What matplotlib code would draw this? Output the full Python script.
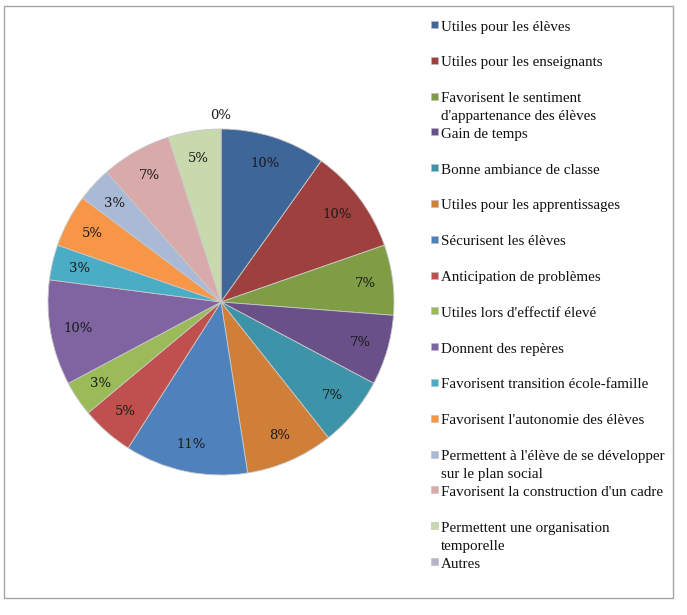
import matplotlib
matplotlib.use("Agg")
import matplotlib.pyplot as plt
from matplotlib.patches import Rectangle
import numpy as np

# Data (number of answers per category, total 61)
categories = [
    "Utiles pour les élèves",
    "Utiles pour les enseignants",
    "Favorisent le sentiment\nd'appartenance des élèves",
    "Gain de temps",
    "Bonne ambiance de classe",
    "Utiles pour les apprentissages",
    "Sécurisent les élèves",
    "Anticipation de problèmes",
    "Utiles lors d'effectif élevé",
    "Donnent des repères",
    "Favorisent transition école-famille",
    "Favorisent l'autonomie des élèves",
    "Permettent à l'élève de se développer\nsur le plan social",
    "Favorisent la construction d'un cadre",
    "Permettent une organisation\ntemporelle",
    "Autres",
]
counts = [6, 6, 4, 4, 4, 5, 7, 3, 2, 6, 2, 3, 2, 4, 3, 0]
colors = [
    "#3f6699", "#9e403d", "#7f9d44", "#6a5088", "#3d93a8", "#d07f38",
    "#4f81bd", "#c0504d", "#9bbb59", "#8064a2", "#4bacc6", "#f79646",
    "#aab9d5", "#d9aaaa", "#c9d9ae", "#b7b3cc",
]

W, H = 687, 615
fig = plt.figure(figsize=(W / 100, H / 100), dpi=100)
fig.patch.set_facecolor("white")

# outer border
fig.patches.append(Rectangle((4 / W, 1 - 598 / H), 669 / W, 592 / H,
                             transform=fig.transFigure, fill=False,
                             edgecolor="#a6a6a6", linewidth=1.0))

# pie axes: center (221, 302), radius 173 px
cx, cy, r = 221, 302, 173
ax = fig.add_axes([(cx - r) / W, (H - cy - r) / H, 2 * r / W, 2 * r / H])
wedges, _ = ax.pie(counts, colors=colors, startangle=90, counterclock=False,
                   radius=1.0,
                   wedgeprops=dict(edgecolor="#c8c8c8", linewidth=0.6))
ax.set_xlim(-1, 1)
ax.set_ylim(-1, 1)
ax.set_aspect("equal")
ax.axis("off")

total = sum(counts)
for w, c in zip(wedges, counts):
    ang = np.deg2rad((w.theta1 + w.theta2) / 2)
    pct = round(100 * c / total)
    d = 0.84 if c > 0 else 1.08
    ax.text(d * np.cos(ang), d * np.sin(ang), f"{pct}%",
            ha="center", va="center", fontsize=9.5,
            family="DejaVu Serif", color="#1a1a1a", clip_on=False)

# manual legend (Excel style, fixed slots)
y0, step, line_h = 27, 35.8, 18
for i, (lab, col) in enumerate(zip(categories, colors)):
    yc = y0 + i * step
    fig.patches.append(Rectangle((431 / W, 1 - (yc + 1) / H), 7 / W, 7 / H,
                                 transform=fig.transFigure, facecolor=col,
                                 edgecolor="#bbbbbb", linewidth=0.4))
    for k, line in enumerate(lab.split("\n")):
        fig.text(441 / W, 1 - (yc + k * line_h) / H, line, ha="left",
                 va="center", fontsize=10.8, family="Liberation Serif",
                 color="#111111")

fig.savefig("out.png", dpi=100)
